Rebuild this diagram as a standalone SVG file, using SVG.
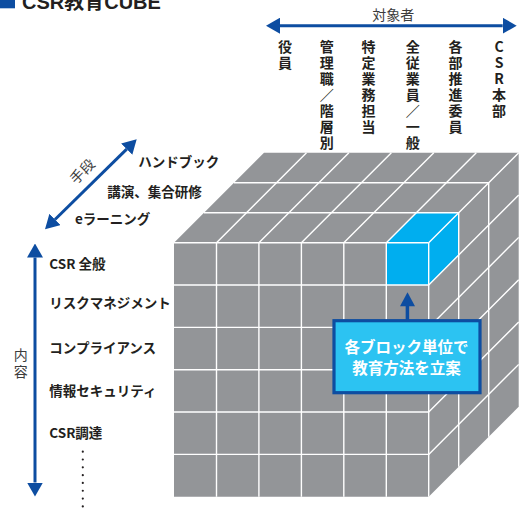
<svg xmlns="http://www.w3.org/2000/svg" width="519" height="510" viewBox="0 0 519 510">
  <defs>
    <marker id="head" viewBox="0 -8 14 16" refX="0" refY="0" markerWidth="14" markerHeight="16" markerUnits="userSpaceOnUse" orient="auto-start-reverse">
      <path d="M0,-8 L14,0 L0,8 z" fill="#0D4DA1"/>
    </marker>
    <style>
      .lbl { font-family: "Noto Sans CJK JP", "Liberation Sans", sans-serif; font-weight: 700; font-size: 13.5px; fill: #231F20; }
      .vl { font-family: "Noto Sans CJK JP", "Liberation Sans", sans-serif; font-weight: 700; font-size: 14px; fill: #231F20; writing-mode: vertical-rl; text-orientation: upright; letter-spacing: 2.1px; }
      .axis { font-family: "Noto Sans CJK JP", "Liberation Sans", sans-serif; font-weight: 400; font-size: 14px; fill: #3C3C3C; }
      .axisv { font-family: "Noto Sans CJK JP", "Liberation Sans", sans-serif; font-weight: 400; font-size: 14px; fill: #3C3C3C; writing-mode: vertical-rl; letter-spacing: 2.7px; }
      .axisline { stroke: #0D4DA1; stroke-width: 3; fill: none; }
      .grid { stroke: #FFFFFF; stroke-width: 1.4; fill: none; }
      .gray { fill: #939598; }
      .cyan { fill: #00AEEF; }
      .callout { font-family: "Noto Sans CJK JP", "Liberation Sans", sans-serif; font-weight: 700; font-size: 15.5px; fill: #FFFFFF; text-anchor: middle; }
    </style>
  </defs>

  <g id="title">
    <rect x="0" y="-7" width="15" height="15.3" fill="#0D4DA1"/>
    <text x="22" y="9" font-family="Liberation Sans, Noto Sans CJK JP, sans-serif" font-weight="700" font-size="20" fill="#231F20">CSR教育CUBE</text>
  </g>

  <g id="cube">
    <polygon class="gray" points="174,242.7 264,152.7 518.7,152.7 518.7,406.7 428.7,496.7 174,496.7"/>
    <g id="highlight-block">
      <rect class="cyan" x="386.3" y="242.7" width="42.4" height="42.3"/>
      <polygon class="cyan" points="386.3,242.7 428.7,242.7 458.7,212.7 416.3,212.7"/>
      <polygon class="cyan" points="428.7,242.7 458.7,212.7 458.7,255 428.7,285"/>
    </g>
    <g class="grid">
      <path d="M216.5,242.7V496.7 M258.9,242.7V496.7 M301.4,242.7V496.7 M343.8,242.7V496.7 M386.3,242.7V496.7 M428.7,242.7V496.7"/>
      <path d="M174,242.7H428.7 M174,285H428.7 M174,327.4H428.7 M174,369.7H428.7 M174,412H428.7 M174,454.4H428.7"/>
      <path d="M204,212.7H458.7 M234,182.7H488.7"/>
      <path d="M216.5,242.7L306.5,152.7 M258.9,242.7L348.9,152.7 M301.4,242.7L391.4,152.7 M343.8,242.7L433.8,152.7 M386.3,242.7L476.3,152.7 M428.7,242.7L518.7,152.7"/>
      <path d="M458.7,212.7V466.7 M488.7,182.7V436.7"/>
      <path d="M428.7,285L518.7,195 M428.7,327.4L518.7,237.4 M428.7,369.7L518.7,279.7 M428.7,412L518.7,322 M428.7,454.4L518.7,364.4"/>
    </g>
  </g>

  <g id="axis-target">
    <text class="axis" x="393.3" y="20.3" text-anchor="middle">対象者</text>
    <text class="vl" x="285" y="39.5">役員</text>
    <text class="vl" x="326.7" y="39.5">管理職／階層別</text>
    <text class="vl" x="368.5" y="39.5">特定業務担当</text>
    <text class="vl" x="412.8" y="39.5">全従業員／一般</text>
    <text class="vl" x="455.5" y="39.5">各部推進委員</text>
    <text class="vl" x="499" y="39.5">CSR本部</text>
  </g>

  <g id="axis-means">
    <text class="axis" font-size="13" transform="translate(82.5,171.7) rotate(-45)" text-anchor="middle" dy="4.8">手段</text>
    <text class="lbl" x="138.3" y="166.7">ハンドブック</text>
    <text class="lbl" x="107.3" y="196.7">講演、集合研修</text>
    <text class="lbl" x="75" y="224.3">eラーニング</text>
  </g>

  <g id="axis-content">
    <text class="axisv" x="20.7" y="348">内容</text>
    <text class="lbl" x="49.3" y="269.3">CSR 全般</text>
    <text class="lbl" x="49.3" y="307.7">リスクマネジメント</text>
    <text class="lbl" x="49.3" y="353.3">コンプライアンス</text>
    <text class="lbl" x="49.3" y="396">情報セキュリティ</text>
    <text class="lbl" x="49.3" y="438.3">CSR調達</text>
    <path d="M82.8,451.7V512" stroke="#231F20" stroke-width="2.2" stroke-linecap="round" stroke-dasharray="0.01 7.8" fill="none"/>
  </g>

  <g id="callout">
    <rect x="334" y="320.7" width="146" height="72" fill="#2CC3F2" stroke="#0D4DA1" stroke-width="3.2"/>
    <text class="callout" x="406.5" y="352.6">各ブロック単位で</text>
    <text class="callout" x="406.5" y="374.2">教育方法を立案</text>
  </g>

  <g id="connectors">
    <line class="axisline" x1="280" y1="25.7" x2="502.7" y2="25.7" marker-start="url(#head)" marker-end="url(#head)"/>
    <line class="axisline" x1="55" y1="219.5" x2="126.7" y2="149.1" marker-start="url(#head)" marker-end="url(#head)"/>
    <line class="axisline" x1="35" y1="257.5" x2="35" y2="482.5" marker-start="url(#head)" marker-end="url(#head)"/>
    <line x1="407.4" y1="320" x2="407.4" y2="305" stroke="#0D4DA1" stroke-width="3.5"/>
    <polygon points="400,306.2 415,306.2 407.5,292.3" fill="#0D4DA1"/>
  </g>
</svg>
